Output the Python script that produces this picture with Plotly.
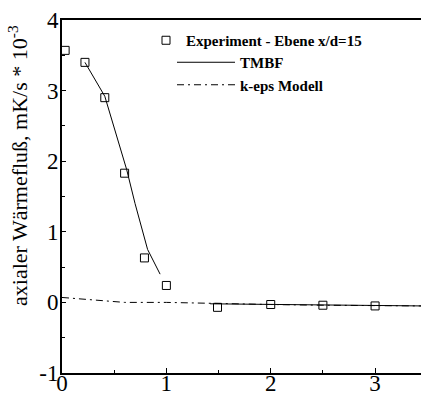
import plotly.graph_objects as go

# Experiment - Ebene x/d=15
exp_x = [0.03, 0.22, 0.41, 0.60, 0.79, 1.0, 1.49, 2.0, 2.5, 3.0]
exp_y = [3.57, 3.40, 2.90, 1.83, 0.63, 0.24, -0.07, -0.03, -0.04, -0.05]

# TMBF
tmbf_x = [0.22, 0.41, 0.62, 0.70, 0.82, 0.94, None, 1.42, 2.0, 2.5, 3.0, 3.44]
tmbf_y = [3.40, 2.92, 1.88, 1.40, 0.75, 0.40, None, -0.02, -0.03, -0.04, -0.05, -0.05]

# k-eps Modell
keps_x = [0.0, 0.3, 0.6, 1.0, 1.5, 2.0, 2.5, 3.0, 3.44]
keps_y = [0.07, 0.04, 0.0, 0.0, -0.02, -0.03, -0.04, -0.04, -0.05]

x_ticks = [0, 1, 2, 3]
y_ticks = [-1, 0, 1, 2, 3, 4]

y_title = "axialer Wärmefluß, mK/s * 10<sup>-3</sup>"

fig = go.Figure()
fig.add_trace(go.Scatter(
    x=exp_x, y=exp_y, mode="markers", name="Experiment - Ebene x/d=15",
    marker=dict(symbol="square-open", size=8, color="black", line=dict(width=1)),
    cliponaxis=False, legend="legend"))
fig.add_trace(go.Scatter(
    x=tmbf_x, y=tmbf_y, mode="lines", name="TMBF",
    line=dict(color="black", width=1), connectgaps=False, legend="legend2"))
fig.add_trace(go.Scatter(
    x=keps_x, y=keps_y, mode="lines", name="k-eps Modell",
    line=dict(color="black", width=1, dash="7px,4px,2px,4px"), legend="legend2"))

xtick_font = dict(family="Liberation Serif", size=23, color="black")
ytick_font = dict(family="Liberation Serif", size=23, color="black")
legend_font = dict(family="Liberation Serif", size=15, color="black", weight="bold")

# plot area in screen pixels
PW, PH, L, T = 359, 353, 62, 20

fig.update_layout(
    width=421, height=398,
    margin=dict(l=L, r=0, t=T, b=25, autoexpand=False),
    paper_bgcolor="white", plot_bgcolor="white",
    showlegend=True,
    legend=dict(x=(146 - L) / PW, y=1 - (24 - T) / PH, xref="paper", yref="paper",
                xanchor="left", yanchor="top", bgcolor="rgba(0,0,0,0)",
                font=legend_font, itemwidth=30),
    legend2=dict(x=(172 - L) / PW, y=1 - (46 - T) / PH, xref="paper", yref="paper",
                 xanchor="left", yanchor="top", bgcolor="rgba(0,0,0,0)",
                 font=legend_font, itemwidth=58, tracegroupgap=0),
    xaxis=dict(range=[0, 3.44], tickvals=x_ticks, ticktext=[str(v) for v in x_ticks],
               showgrid=False, zeroline=False, showline=True, linecolor="black",
               linewidth=2, mirror=True, ticks="inside", ticklen=5, tickcolor="black",
               minor=dict(dtick=0.5, ticks="inside", ticklen=3, tickcolor="black"),
               tickfont=xtick_font, ticklabelstandoff=-12),
    yaxis=dict(range=[-1, 4], tickvals=y_ticks, ticktext=[str(v) for v in y_ticks],
               showgrid=False, zeroline=False, showline=True, linecolor="black",
               linewidth=2, ticks="inside", ticklen=4, tickcolor="black",
               minor=dict(dtick=0.5, ticks="inside", ticklen=3, tickcolor="black"),
               tickfont=ytick_font, ticklabelstandoff=-3),
    annotations=[dict(text=y_title, textangle=-90,
                      x=(18 - L) / PW, y=1 - (166 - T) / PH,
                      xref="paper", yref="paper", showarrow=False,
                      xanchor="center", yanchor="middle",
                      font=dict(family="Liberation Serif", size=22, color="black"))],
)

fig.write_html(
    "out.html",
    config={"displayModeBar": False},
    post_script="document.body.style.margin='0';document.body.style.overflow='hidden';"
                "document.documentElement.style.overflow='hidden';",
)
